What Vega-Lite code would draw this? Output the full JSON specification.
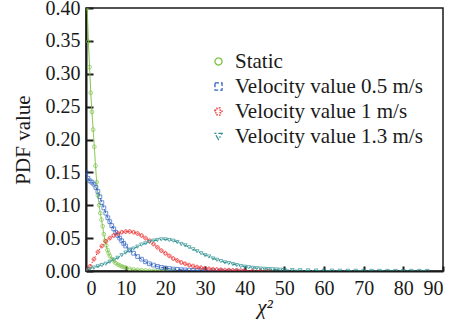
{
  "$schema": "https://vega.github.io/schema/vega-lite/v6.json",
  "width": 357,
  "height": 263,
  "autosize": "none",
  "padding": {"left": 86, "top": 8, "right": 30, "bottom": 54},
  "background": "#ffffff",
  "config": {
    "view": {"stroke": "#1a1a1a", "strokeWidth": 1.5},
    "font": "Liberation Serif",
    "axis": {
      "grid": false,
      "domainColor": "#1a1a1a",
      "domainWidth": 2,
      "tickColor": "#1a1a1a",
      "tickWidth": 2,
      "labelFont": "Liberation Serif",
      "labelFontSize": 20,
      "labelColor": "#1a1a1a",
      "titleFont": "Liberation Serif",
      "titleFontSize": 21,
      "titleFontWeight": "normal",
      "titleColor": "#1a1a1a"
    }
  },
  "data": {
    "values": [
      {"s": "Static", "x": 0.3, "y": 0.40}, {"s": "Static", "x": 0.6, "y": 0.349}, {"s": "Static", "x": 0.9, "y": 0.31}, {"s": "Static", "x": 1.2, "y": 0.271}, {"s": "Static", "x": 1.5, "y": 0.242}, {"s": "Static", "x": 1.8, "y": 0.215}, {"s": "Static", "x": 2.1, "y": 0.189}, {"s": "Static", "x": 2.4, "y": 0.16}, {"s": "Static", "x": 2.7, "y": 0.135}, {"s": "Static", "x": 3.0, "y": 0.115}, {"s": "Static", "x": 3.3, "y": 0.1}, {"s": "Static", "x": 3.6, "y": 0.088}, {"s": "Static", "x": 3.9, "y": 0.078}, {"s": "Static", "x": 4.2, "y": 0.068}, {"s": "Static", "x": 4.5, "y": 0.056}, {"s": "Static", "x": 4.8, "y": 0.046}, {"s": "Static", "x": 5.1, "y": 0.039}, {"s": "Static", "x": 5.4, "y": 0.032}, {"s": "Static", "x": 5.7, "y": 0.027}, {"s": "Static", "x": 6.0, "y": 0.023}, {"s": "Static", "x": 6.5, "y": 0.018}, {"s": "Static", "x": 7.0, "y": 0.015}, {"s": "Static", "x": 7.5, "y": 0.012}, {"s": "Static", "x": 8.0, "y": 0.01}, {"s": "Static", "x": 8.5, "y": 0.0085}, {"s": "Static", "x": 9.0, "y": 0.007}, {"s": "Static", "x": 9.5, "y": 0.006}, {"s": "Static", "x": 10, "y": 0.005}, {"s": "Static", "x": 11, "y": 0.0035}, {"s": "Static", "x": 12, "y": 0.0025}, {"s": "Static", "x": 13, "y": 0.0018}, {"s": "Static", "x": 14, "y": 0.0012}, {"s": "Static", "x": 15, "y": 0.0008}, {"s": "Static", "x": 16, "y": 0.0005}, {"s": "Static", "x": 17, "y": 0.0003}, {"s": "Static", "x": 18, "y": 0.0002}, {"s": "Static", "x": 19, "y": 0.0001}, {"s": "Static", "x": 20, "y": 0.0001}, {"s": "Static", "x": 21, "y": 0}, {"s": "Static", "x": 22, "y": 0},

      {"s": "Velocity value 0.5 m/s", "x": 0, "y": 0.15}, {"s": "Velocity value 0.5 m/s", "x": 0.5, "y": 0.141}, {"s": "Velocity value 0.5 m/s", "x": 1, "y": 0.137}, {"s": "Velocity value 0.5 m/s", "x": 1.5, "y": 0.135}, {"s": "Velocity value 0.5 m/s", "x": 2, "y": 0.132}, {"s": "Velocity value 0.5 m/s", "x": 2.5, "y": 0.127}, {"s": "Velocity value 0.5 m/s", "x": 3, "y": 0.121}, {"s": "Velocity value 0.5 m/s", "x": 3.5, "y": 0.113}, {"s": "Velocity value 0.5 m/s", "x": 4, "y": 0.104}, {"s": "Velocity value 0.5 m/s", "x": 4.5, "y": 0.096}, {"s": "Velocity value 0.5 m/s", "x": 5, "y": 0.088}, {"s": "Velocity value 0.5 m/s", "x": 5.5, "y": 0.081}, {"s": "Velocity value 0.5 m/s", "x": 6, "y": 0.075}, {"s": "Velocity value 0.5 m/s", "x": 6.5, "y": 0.069}, {"s": "Velocity value 0.5 m/s", "x": 7, "y": 0.064}, {"s": "Velocity value 0.5 m/s", "x": 7.5, "y": 0.059}, {"s": "Velocity value 0.5 m/s", "x": 8, "y": 0.054}, {"s": "Velocity value 0.5 m/s", "x": 8.5, "y": 0.05}, {"s": "Velocity value 0.5 m/s", "x": 9, "y": 0.046}, {"s": "Velocity value 0.5 m/s", "x": 9.5, "y": 0.042}, {"s": "Velocity value 0.5 m/s", "x": 10, "y": 0.038}, {"s": "Velocity value 0.5 m/s", "x": 11, "y": 0.032}, {"s": "Velocity value 0.5 m/s", "x": 12, "y": 0.027}, {"s": "Velocity value 0.5 m/s", "x": 13, "y": 0.022}, {"s": "Velocity value 0.5 m/s", "x": 14, "y": 0.018}, {"s": "Velocity value 0.5 m/s", "x": 15, "y": 0.014}, {"s": "Velocity value 0.5 m/s", "x": 16, "y": 0.011}, {"s": "Velocity value 0.5 m/s", "x": 17, "y": 0.009}, {"s": "Velocity value 0.5 m/s", "x": 18, "y": 0.007}, {"s": "Velocity value 0.5 m/s", "x": 19, "y": 0.0055}, {"s": "Velocity value 0.5 m/s", "x": 20, "y": 0.0045}, {"s": "Velocity value 0.5 m/s", "x": 21, "y": 0.0037}, {"s": "Velocity value 0.5 m/s", "x": 22, "y": 0.003}, {"s": "Velocity value 0.5 m/s", "x": 23, "y": 0.0025}, {"s": "Velocity value 0.5 m/s", "x": 24, "y": 0.002}, {"s": "Velocity value 0.5 m/s", "x": 25, "y": 0.0016}, {"s": "Velocity value 0.5 m/s", "x": 26, "y": 0.0013}, {"s": "Velocity value 0.5 m/s", "x": 27, "y": 0.001}, {"s": "Velocity value 0.5 m/s", "x": 28, "y": 0.0008}, {"s": "Velocity value 0.5 m/s", "x": 29, "y": 0.0006}, {"s": "Velocity value 0.5 m/s", "x": 30, "y": 0.0005}, {"s": "Velocity value 0.5 m/s", "x": 32, "y": 0.0003}, {"s": "Velocity value 0.5 m/s", "x": 34, "y": 0.0002}, {"s": "Velocity value 0.5 m/s", "x": 36, "y": 0.0001}, {"s": "Velocity value 0.5 m/s", "x": 38, "y": 0.0001}, {"s": "Velocity value 0.5 m/s", "x": 40, "y": 0},

      {"s": "Velocity value 1 m/s", "x": 0, "y": 0.002}, {"s": "Velocity value 1 m/s", "x": 1, "y": 0.007}, {"s": "Velocity value 1 m/s", "x": 2, "y": 0.018}, {"s": "Velocity value 1 m/s", "x": 3, "y": 0.029}, {"s": "Velocity value 1 m/s", "x": 4, "y": 0.038}, {"s": "Velocity value 1 m/s", "x": 5, "y": 0.045}, {"s": "Velocity value 1 m/s", "x": 6, "y": 0.05}, {"s": "Velocity value 1 m/s", "x": 7, "y": 0.054}, {"s": "Velocity value 1 m/s", "x": 8, "y": 0.057}, {"s": "Velocity value 1 m/s", "x": 9, "y": 0.059}, {"s": "Velocity value 1 m/s", "x": 10, "y": 0.06}, {"s": "Velocity value 1 m/s", "x": 11, "y": 0.06}, {"s": "Velocity value 1 m/s", "x": 12, "y": 0.059}, {"s": "Velocity value 1 m/s", "x": 13, "y": 0.057}, {"s": "Velocity value 1 m/s", "x": 14, "y": 0.054}, {"s": "Velocity value 1 m/s", "x": 15, "y": 0.05}, {"s": "Velocity value 1 m/s", "x": 16, "y": 0.046}, {"s": "Velocity value 1 m/s", "x": 17, "y": 0.041}, {"s": "Velocity value 1 m/s", "x": 18, "y": 0.036}, {"s": "Velocity value 1 m/s", "x": 19, "y": 0.031}, {"s": "Velocity value 1 m/s", "x": 20, "y": 0.027}, {"s": "Velocity value 1 m/s", "x": 21, "y": 0.023}, {"s": "Velocity value 1 m/s", "x": 22, "y": 0.019}, {"s": "Velocity value 1 m/s", "x": 23, "y": 0.016}, {"s": "Velocity value 1 m/s", "x": 24, "y": 0.013}, {"s": "Velocity value 1 m/s", "x": 25, "y": 0.011}, {"s": "Velocity value 1 m/s", "x": 26, "y": 0.009}, {"s": "Velocity value 1 m/s", "x": 27, "y": 0.0075}, {"s": "Velocity value 1 m/s", "x": 28, "y": 0.006}, {"s": "Velocity value 1 m/s", "x": 29, "y": 0.005}, {"s": "Velocity value 1 m/s", "x": 30, "y": 0.004}, {"s": "Velocity value 1 m/s", "x": 31, "y": 0.0033}, {"s": "Velocity value 1 m/s", "x": 32, "y": 0.0027}, {"s": "Velocity value 1 m/s", "x": 33, "y": 0.0022}, {"s": "Velocity value 1 m/s", "x": 34, "y": 0.0018}, {"s": "Velocity value 1 m/s", "x": 35, "y": 0.0014}, {"s": "Velocity value 1 m/s", "x": 36, "y": 0.0011}, {"s": "Velocity value 1 m/s", "x": 37, "y": 0.0009}, {"s": "Velocity value 1 m/s", "x": 38, "y": 0.0007}, {"s": "Velocity value 1 m/s", "x": 39, "y": 0.0005}, {"s": "Velocity value 1 m/s", "x": 40, "y": 0.0004}, {"s": "Velocity value 1 m/s", "x": 42, "y": 0.0002}, {"s": "Velocity value 1 m/s", "x": 44, "y": 0.0001}, {"s": "Velocity value 1 m/s", "x": 46, "y": 0},

      {"s": "Velocity value 1.3 m/s", "x": 0, "y": 0.001}, {"s": "Velocity value 1.3 m/s", "x": 1, "y": 0.003}, {"s": "Velocity value 1.3 m/s", "x": 2, "y": 0.005}, {"s": "Velocity value 1.3 m/s", "x": 3, "y": 0.007}, {"s": "Velocity value 1.3 m/s", "x": 4, "y": 0.009}, {"s": "Velocity value 1.3 m/s", "x": 5, "y": 0.011}, {"s": "Velocity value 1.3 m/s", "x": 6, "y": 0.014}, {"s": "Velocity value 1.3 m/s", "x": 7, "y": 0.017}, {"s": "Velocity value 1.3 m/s", "x": 8, "y": 0.02}, {"s": "Velocity value 1.3 m/s", "x": 9, "y": 0.024}, {"s": "Velocity value 1.3 m/s", "x": 10, "y": 0.028}, {"s": "Velocity value 1.3 m/s", "x": 11, "y": 0.031}, {"s": "Velocity value 1.3 m/s", "x": 12, "y": 0.034}, {"s": "Velocity value 1.3 m/s", "x": 13, "y": 0.037}, {"s": "Velocity value 1.3 m/s", "x": 14, "y": 0.04}, {"s": "Velocity value 1.3 m/s", "x": 15, "y": 0.042}, {"s": "Velocity value 1.3 m/s", "x": 16, "y": 0.044}, {"s": "Velocity value 1.3 m/s", "x": 17, "y": 0.046}, {"s": "Velocity value 1.3 m/s", "x": 18, "y": 0.047}, {"s": "Velocity value 1.3 m/s", "x": 19, "y": 0.048}, {"s": "Velocity value 1.3 m/s", "x": 20, "y": 0.048}, {"s": "Velocity value 1.3 m/s", "x": 21, "y": 0.047}, {"s": "Velocity value 1.3 m/s", "x": 22, "y": 0.046}, {"s": "Velocity value 1.3 m/s", "x": 23, "y": 0.044}, {"s": "Velocity value 1.3 m/s", "x": 24, "y": 0.041}, {"s": "Velocity value 1.3 m/s", "x": 25, "y": 0.039}, {"s": "Velocity value 1.3 m/s", "x": 26, "y": 0.036}, {"s": "Velocity value 1.3 m/s", "x": 27, "y": 0.033}, {"s": "Velocity value 1.3 m/s", "x": 28, "y": 0.03}, {"s": "Velocity value 1.3 m/s", "x": 29, "y": 0.027}, {"s": "Velocity value 1.3 m/s", "x": 30, "y": 0.024}, {"s": "Velocity value 1.3 m/s", "x": 31, "y": 0.022}, {"s": "Velocity value 1.3 m/s", "x": 32, "y": 0.019}, {"s": "Velocity value 1.3 m/s", "x": 33, "y": 0.017}, {"s": "Velocity value 1.3 m/s", "x": 34, "y": 0.015}, {"s": "Velocity value 1.3 m/s", "x": 35, "y": 0.013}, {"s": "Velocity value 1.3 m/s", "x": 36, "y": 0.012}, {"s": "Velocity value 1.3 m/s", "x": 37, "y": 0.0105}, {"s": "Velocity value 1.3 m/s", "x": 38, "y": 0.009}, {"s": "Velocity value 1.3 m/s", "x": 39, "y": 0.0075}, {"s": "Velocity value 1.3 m/s", "x": 40, "y": 0.0065}, {"s": "Velocity value 1.3 m/s", "x": 41, "y": 0.0056}, {"s": "Velocity value 1.3 m/s", "x": 42, "y": 0.0048}, {"s": "Velocity value 1.3 m/s", "x": 43, "y": 0.0042}, {"s": "Velocity value 1.3 m/s", "x": 44, "y": 0.0036}, {"s": "Velocity value 1.3 m/s", "x": 45, "y": 0.0032}, {"s": "Velocity value 1.3 m/s", "x": 46, "y": 0.0028}, {"s": "Velocity value 1.3 m/s", "x": 47, "y": 0.0025}, {"s": "Velocity value 1.3 m/s", "x": 48, "y": 0.0022}, {"s": "Velocity value 1.3 m/s", "x": 49, "y": 0.0019}, {"s": "Velocity value 1.3 m/s", "x": 50, "y": 0.0017}, {"s": "Velocity value 1.3 m/s", "x": 52, "y": 0.0013}, {"s": "Velocity value 1.3 m/s", "x": 54, "y": 0.001}, {"s": "Velocity value 1.3 m/s", "x": 56, "y": 0.0008}, {"s": "Velocity value 1.3 m/s", "x": 58, "y": 0.0006}, {"s": "Velocity value 1.3 m/s", "x": 60, "y": 0.0005}, {"s": "Velocity value 1.3 m/s", "x": 62, "y": 0.0004}, {"s": "Velocity value 1.3 m/s", "x": 64, "y": 0.0003}, {"s": "Velocity value 1.3 m/s", "x": 66, "y": 0.0002}, {"s": "Velocity value 1.3 m/s", "x": 68, "y": 0.0002}, {"s": "Velocity value 1.3 m/s", "x": 70, "y": 0.0001}, {"s": "Velocity value 1.3 m/s", "x": 72, "y": 0.0001}, {"s": "Velocity value 1.3 m/s", "x": 74, "y": 0.0001}, {"s": "Velocity value 1.3 m/s", "x": 76, "y": 0}, {"s": "Velocity value 1.3 m/s", "x": 78, "y": 0}, {"s": "Velocity value 1.3 m/s", "x": 80, "y": 0}, {"s": "Velocity value 1.3 m/s", "x": 82, "y": 0}, {"s": "Velocity value 1.3 m/s", "x": 84, "y": 0}, {"s": "Velocity value 1.3 m/s", "x": 86, "y": 0}
    ]
  },
  "encoding": {
    "x": {
      "field": "x", "type": "quantitative",
      "scale": {"domain": [0, 90], "nice": false},
      "axis": {"title": "χ²", "titleFontStyle": "italic", "values": [0,10,20,30,40,50,60,70,80,90], "tickSize": -5, "labelPadding": 12, "titlePadding": -2}
    },
    "y": {
      "field": "y", "type": "quantitative",
      "scale": {"domain": [0, 0.4], "nice": false},
      "axis": {"title": "PDF value", "values": [0,0.05,0.1,0.15,0.2,0.25,0.3,0.35,0.4], "format": ".2f", "tickSize": -7, "labelPadding": 13, "titlePadding": 12}
    }
  },
  "layer": [
    {
      "mark": {"type": "line", "strokeWidth": 1, "clip": true},
      "encoding": {
        "color": {
          "field": "s", "type": "nominal",
          "scale": {"domain": ["Static", "Velocity value 0.5 m/s", "Velocity value 1 m/s", "Velocity value 1.3 m/s"], "range": ["#7cc243", "#2f62c2", "#ee2a2a", "#2a9090"]},
          "legend": {
            "title": null,
            "orient": "none",
            "legendX": 122,
            "legendY": 43,
            "padding": 0,
            "symbolSize": 50,
            "symbolStrokeWidth": 1.3,
            "symbolFillColor": "transparent",
            "labelFont": "Liberation Serif",
            "labelFontSize": 21,
            "labelColor": "#1a1a1a",
            "labelOffset": 6,
            "rowPadding": 3,
            "labelLimit": 300
          }
        },
        "strokeDash": {
          "field": "s", "type": "nominal", "legend": null,
          "scale": {"domain": ["Static", "Velocity value 0.5 m/s", "Velocity value 1 m/s", "Velocity value 1.3 m/s"], "range": [[1, 0], [4, 2], [1.5, 1.5], [5, 2, 1.5, 2]]}
        }
      }
    },
    {
      "mark": {"type": "point", "filled": false, "strokeWidth": 1, "size": 14, "clip": true},
      "encoding": {
        "color": {"field": "s", "type": "nominal", "legend": null},
        "shape": {
          "field": "s", "type": "nominal", "legend": null,
          "scale": {"domain": ["Static", "Velocity value 0.5 m/s", "Velocity value 1 m/s", "Velocity value 1.3 m/s"], "range": ["circle", "square", "cross", "triangle-down"]}
        }
      }
    }
  ]
}
